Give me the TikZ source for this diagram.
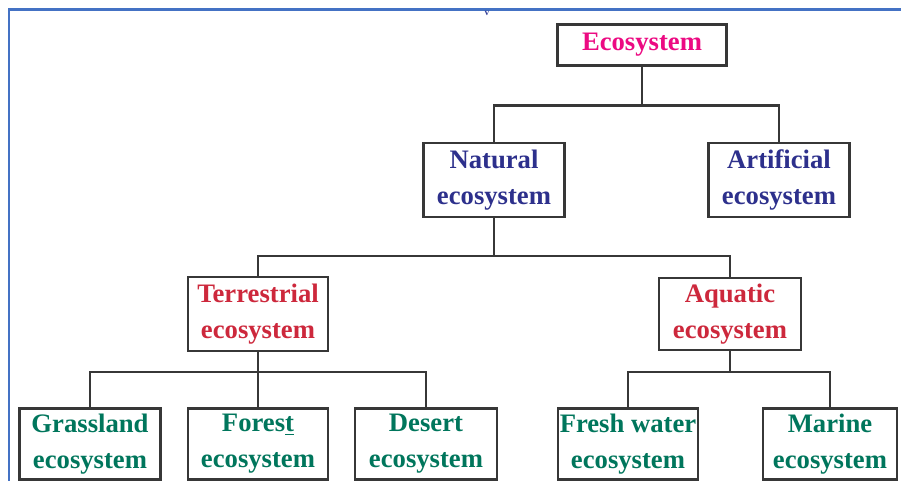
\documentclass[tikz,border=0pt]{standalone}
\usepackage{fontspec}
\setmainfont{Liberation Serif}
\usetikzlibrary{calc}

\definecolor{frameblue}{RGB}{68,114,196}
\definecolor{rootpink}{RGB}{236,10,130}
\definecolor{levelnavy}{RGB}{45,48,140}
\definecolor{levelred}{RGB}{205,40,60}
\definecolor{leafteal}{RGB}{0,118,92}
\definecolor{linegray}{RGB}{55,55,55}

\tikzset{
  boxnode/.style={draw=linegray, line width=1.6pt, fill=white, inner sep=0pt,
    align=center, font=\fontsize{20}{27}\selectfont\bfseries},
  rootbox/.style={boxnode, text=rootpink},
  midbox/.style={boxnode, text=levelnavy},
  subbox/.style={boxnode, text=levelred},
  leafbox/.style={boxnode, text=leafteal},
  link/.style={draw=linegray, line width=1.6pt},
}

\begin{document}
\begin{tikzpicture}[x=0.75pt,y=-0.75pt]
  \useasboundingbox (0,0) rectangle (901,481);
  \fill[white] (0,0) rectangle (901,481);

  % window frame
  \draw[frameblue, line width=1.6pt] (8,9.5) -- (901,9.5);
  \draw[frameblue, line width=2.2pt] (9,9.5) -- (9,481);
  \node[text=levelnavy!80!frameblue, font=\fontsize{7}{7}\selectfont\bfseries, inner sep=0pt] (mark) at (487,13.5) {v};

  % level 0
  \node[rootbox, minimum width=169*0.75pt, minimum height=41*0.75pt] (eco) at (642,45) {Ecosystem};

  % level 1
  \node[midbox, minimum width=141*0.75pt, minimum height=74*0.75pt] (nat) at (494,180) {Natural\\ecosystem};
  \node[midbox, minimum width=141*0.75pt, minimum height=74*0.75pt] (art) at (779,180) {Artificial\\ecosystem};

  % level 2
  \node[subbox, minimum width=140*0.75pt, minimum height=74*0.75pt] (ter) at (258,314) {Terrestrial\\ecosystem};
  \node[subbox, minimum width=142*0.75pt, minimum height=72*0.75pt] (aqu) at (730,314) {Aquatic\\ecosystem};

  % level 3
  \node[leafbox, minimum width=141*0.75pt, minimum height=71*0.75pt] (gra) at (90,444) {Grassland\\ecosystem};
  \node[leafbox, minimum width=140*0.75pt, minimum height=71*0.75pt] (for) at (258,444) {Fores\underline{t}\\ecosystem};
  \node[leafbox, minimum width=142*0.75pt, minimum height=71*0.75pt] (des) at (426,444) {Desert\\ecosystem};
  \node[leafbox, minimum width=140*0.75pt, minimum height=71*0.75pt] (fre) at (628,444) {Fresh water\\ecosystem};
  \node[leafbox, minimum width=134*0.75pt, minimum height=71*0.75pt] (mar) at (830,444) {Marine\\ecosystem};

  % connectors
  \draw[link] (eco.south) -- ++(0,39) coordinate (bus0);
  \draw[link] (nat.north) |- (bus0) -| (art.north);

  \draw[link] (nat.south) -- ++(0,38) coordinate (bus1);
  \draw[link] (ter.north) |- (bus1) -| (aqu.north);

  \draw[link] (ter.south) -- ++(0,20) coordinate (bus2);
  \draw[link] (gra.north) |- (bus2) -| (des.north);
  \draw[link] (bus2) -- (for.north);

  \draw[link] (aqu.south) -- ++(0,21) coordinate (bus3);
  \draw[link] (fre.north) |- (bus3) -| (mar.north);
\end{tikzpicture}
\end{document}
